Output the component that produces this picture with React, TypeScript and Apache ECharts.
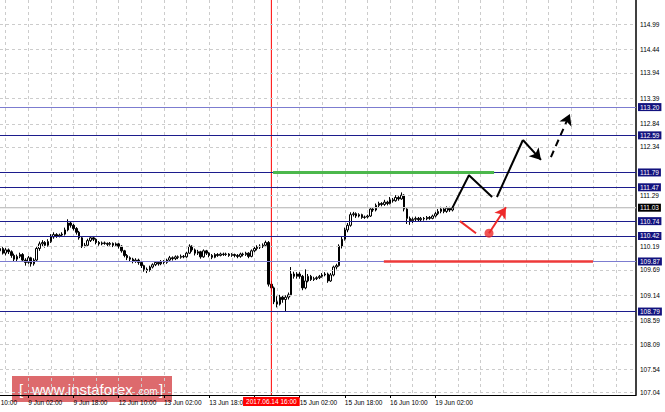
import React, { useEffect, useRef } from "react";
import * as echarts from "echarts";

// ---------- categories (hourly bars, weekends skipped) ----------
const MONTHS = ["Jan", "Feb", "Mar", "Apr", "May", "Jun", "Jul", "Aug", "Sep", "Oct", "Nov", "Dec"];
const START_UTC = Date.UTC(2017, 5, 8, 16);
const SLOT_COUNT = 226;
function buildCategories(): string[] {
  const out: string[] = [];
  let t = START_UTC;
  while (out.length < SLOT_COUNT) {
    const d = new Date(t);
    const dow = d.getUTCDay();
    if (dow !== 0 && dow !== 6) {
      const hh = String(d.getUTCHours()).padStart(2, "0");
      out.push(`${d.getUTCDate()} ${MONTHS[d.getUTCMonth()]} ${hh}:00`);
    }
    t += 3600000;
  }
  return out;
}
const categories = buildCategories();

// ---------- candles: [open, close, low, high] ----------
const candles: number[][] = [
  [110.10, 110.15, 110.06, 110.20], [110.15, 110.05, 110.02, 110.18], [110.05, 110.12, 110.00, 110.16], [110.12, 110.08, 110.03, 110.15],
  [110.08, 110.00, 109.95, 110.11], [110.00, 109.92, 109.86, 110.04], [109.92, 109.98, 109.88, 110.02], [109.98, 110.02, 109.94, 110.06],
  [110.02, 109.90, 109.86, 110.05], [109.90, 109.85, 109.78, 109.94], [109.85, 109.95, 109.82, 109.99], [109.95, 109.82, 109.76, 109.97],
  [109.82, 109.90, 109.78, 109.94], [109.90, 110.15, 109.88, 110.18], [110.15, 110.25, 110.10, 110.30], [110.25, 110.28, 110.20, 110.33],
  [110.28, 110.22, 110.17, 110.31], [110.22, 110.30, 110.19, 110.35], [110.30, 110.40, 110.27, 110.46], [110.40, 110.45, 110.36, 110.50],
  [110.45, 110.42, 110.38, 110.48], [110.42, 110.44, 110.39, 110.47], [110.44, 110.46, 110.41, 110.50], [110.46, 110.55, 110.43, 110.60],
  [110.55, 110.70, 110.52, 110.78], [110.70, 110.65, 110.60, 110.74], [110.65, 110.58, 110.54, 110.68], [110.58, 110.50, 110.45, 110.61],
  [110.50, 110.38, 110.34, 110.53], [110.38, 110.20, 110.16, 110.40], [110.20, 110.22, 110.17, 110.27], [110.22, 110.32, 110.20, 110.36],
  [110.32, 110.38, 110.29, 110.42], [110.38, 110.35, 110.31, 110.41], [110.35, 110.28, 110.24, 110.37], [110.28, 110.25, 110.21, 110.31],
  [110.25, 110.27, 110.22, 110.30], [110.27, 110.26, 110.23, 110.30], [110.26, 110.24, 110.20, 110.28], [110.24, 110.26, 110.21, 110.29],
  [110.26, 110.22, 110.18, 110.28], [110.22, 110.25, 110.19, 110.28], [110.25, 110.20, 110.15, 110.27], [110.20, 110.10, 110.06, 110.22],
  [110.10, 110.00, 109.96, 110.12], [110.00, 109.95, 109.90, 110.03], [109.95, 109.92, 109.88, 109.98], [109.92, 109.88, 109.83, 109.95],
  [109.88, 109.90, 109.84, 109.94], [109.90, 109.85, 109.80, 109.93], [109.85, 109.78, 109.73, 109.88], [109.78, 109.70, 109.65, 109.80],
  [109.70, 109.68, 109.62, 109.74], [109.68, 109.75, 109.65, 109.78], [109.75, 109.80, 109.72, 109.83], [109.80, 109.85, 109.77, 109.88],
  [109.85, 109.82, 109.78, 109.88], [109.82, 109.87, 109.79, 109.90], [109.87, 109.85, 109.81, 109.90], [109.85, 109.90, 109.82, 109.93],
  [109.90, 109.95, 109.87, 109.99], [109.95, 109.93, 109.89, 109.98], [109.93, 109.97, 109.90, 110.00], [109.97, 109.96, 109.92, 110.00],
  [109.96, 109.98, 109.93, 110.02], [109.98, 109.97, 109.94, 110.01], [109.97, 110.05, 109.95, 110.08], [110.05, 110.20, 110.03, 110.24],
  [110.20, 110.12, 110.08, 110.22], [110.12, 110.05, 110.00, 110.15], [110.05, 110.08, 110.01, 110.12], [110.08, 109.97, 109.93, 110.10],
  [109.97, 110.10, 109.95, 110.13], [110.10, 110.05, 110.01, 110.12], [110.05, 110.00, 109.96, 110.07], [110.00, 109.96, 109.92, 110.03],
  [109.96, 110.02, 109.94, 110.05], [110.02, 110.00, 109.97, 110.05], [110.00, 110.03, 109.98, 110.06], [110.03, 110.02, 109.99, 110.06],
  [110.02, 110.03, 109.99, 110.06], [110.03, 110.00, 109.97, 110.05], [110.00, 110.02, 109.97, 110.05], [110.02, 110.00, 109.96, 110.04],
  [110.00, 109.98, 109.94, 110.03], [109.98, 110.03, 109.95, 110.06], [110.03, 110.02, 109.98, 110.06], [110.02, 110.05, 109.99, 110.08],
  [110.05, 109.98, 109.94, 110.07], [109.98, 110.10, 109.96, 110.13], [110.10, 110.15, 110.07, 110.19], [110.15, 110.18, 110.11, 110.22],
  [110.18, 110.20, 110.14, 110.24], [110.20, 110.22, 110.16, 110.26], [110.22, 110.28, 110.18, 110.32], [110.28, 109.38, 109.33, 110.31],
  [109.38, 109.30, 109.22, 109.45], [109.30, 109.00, 108.95, 109.33], [109.00, 108.95, 108.88, 109.12], [108.95, 109.10, 108.92, 109.15],
  [109.10, 109.05, 108.98, 109.14], [109.05, 109.10, 108.79, 109.14], [109.10, 109.15, 109.05, 109.20], [109.15, 109.60, 109.12, 109.75],
  [109.60, 109.55, 109.50, 109.65], [109.55, 109.60, 109.50, 109.64], [109.60, 109.55, 109.50, 109.64], [109.55, 109.30, 109.25, 109.58],
  [109.30, 109.45, 109.27, 109.70], [109.45, 109.55, 109.42, 109.60], [109.55, 109.48, 109.45, 109.58], [109.48, 109.50, 109.45, 109.54],
  [109.50, 109.52, 109.47, 109.55], [109.52, 109.55, 109.49, 109.58], [109.55, 109.58, 109.52, 109.62], [109.58, 109.60, 109.55, 109.64],
  [109.60, 109.45, 109.41, 109.63], [109.45, 109.58, 109.43, 109.62], [109.58, 109.75, 109.55, 109.78], [109.75, 109.78, 109.70, 109.82],
  [109.78, 110.20, 109.76, 110.24], [110.20, 110.35, 110.15, 110.40], [110.35, 110.55, 110.32, 110.60], [110.55, 110.65, 110.50, 110.70],
  [110.65, 110.88, 110.62, 110.93], [110.88, 110.90, 110.84, 110.94], [110.90, 110.85, 110.81, 110.93], [110.85, 110.88, 110.82, 110.91],
  [110.88, 110.82, 110.79, 110.90], [110.82, 110.83, 110.79, 110.86], [110.83, 110.85, 110.80, 110.88], [110.85, 111.00, 110.83, 111.04],
  [111.00, 110.98, 110.94, 111.03], [110.98, 111.08, 110.95, 111.12], [111.08, 111.12, 111.04, 111.16], [111.12, 111.10, 111.06, 111.15],
  [111.10, 111.15, 111.07, 111.20], [111.15, 111.12, 111.08, 111.18], [111.12, 111.20, 111.10, 111.26], [111.20, 111.18, 111.14, 111.24],
  [111.18, 111.25, 111.16, 111.30], [111.25, 111.22, 111.18, 111.28], [111.22, 111.30, 111.20, 111.36], [111.30, 111.00, 110.95, 111.32],
  [111.00, 110.80, 110.68, 111.02], [110.80, 110.75, 110.66, 110.84], [110.75, 110.78, 110.70, 110.82], [110.78, 110.80, 110.74, 110.84],
  [110.80, 110.77, 110.73, 110.83], [110.77, 110.80, 110.74, 110.83], [110.80, 110.79, 110.75, 110.83], [110.79, 110.82, 110.76, 110.85],
  [110.82, 110.80, 110.77, 110.85], [110.80, 110.85, 110.78, 110.88], [110.85, 110.90, 110.82, 110.94], [110.90, 110.95, 110.87, 111.00],
  [110.95, 111.00, 110.91, 111.05], [111.00, 110.95, 110.91, 111.03], [110.95, 111.02, 110.92, 111.06], [111.02, 110.98, 110.94, 111.05],
  [110.98, 111.03, 110.95, 111.06],
];

// ---------- price scale ----------
const yTicks = [114.99, 114.44, 113.94, 113.39, 112.84, 112.34, 111.79, 111.29, 110.74, 110.19, 109.69, 109.14, 108.59, 108.09, 107.54, 107.04];
const levels = [113.20, 112.59, 111.79, 111.47, 110.74, 110.42, 109.87, 108.79];
const lightLevels = [113.20, 109.87];
const currentPrice = 111.03;
const yMin = 106.99;
const yMax = 115.51;

// ---------- event / annotations: [bar index, price] ----------
const eventIndex = 96;
const eventLabel = "2017.06.14 16:00";
const leftCutLabelIndex = -6;
const leftCutLabelHidden = "8 Jun ";
const leftCutLabelVisible = "10:00";
const greenLevel = [[96.6, 111.79], [174.8, 111.79]];
const redLevel = [[135.8, 109.87], [209.8, 109.87]];
const blackPathA = [[160, 111.02], [165.9, 111.73], [174.1, 111.26]];
const blackPathB = [[175.8, 111.26], [185.0, 112.49]];
const blackArrow = [[185.0, 112.49], [191.4, 112.06]];
const blackDashedArrow = [[194.9, 112.12], [201.6, 113.05]];
const redStroke = [[162.7, 110.74], [168.4, 110.48]];
const redDot = [[173.0, 110.48]];
const redArrow = [[173.0, 110.48], [179.0, 111.04]];

const FONT = "Liberation Sans";
const FS = 6.5;

const labelFn = (i: number) => i % 16 === 10 && i <= 154 && i !== 90;
const tickFn = (i: number) => i % 16 === 10 && i <= 154;
const gridFn = (i: number) => i % 8 === 2;

function measure(text: string, font: string): number {
  const c = document.createElement("canvas").getContext("2d");
  if (!c) return text.length * 3;
  c.font = font;
  return c.measureText(text).width;
}

export default function App() {
  const ref = useRef<HTMLDivElement>(null);
  useEffect(() => {
    if (!ref.current) return;
    const chart = echarts.init(ref.current, null, { renderer: "svg" });

    const gridItems: any[] = yTicks.map((v) =>
      levels.includes(v) ? { yAxis: v, label: { show: false } } : { yAxis: v, label: { formatter: v.toFixed(2) } }
    );

    const levelItems = levels.map((v) => ({
      yAxis: v,
      lineStyle: { color: lightLevels.includes(v) ? "#7c7cd0" : "#1c1c8c", width: 1, type: "solid" },
      label: { formatter: v.toFixed(2) },
    }));

    const arrowLine = (pts: number[][], color: string, dashed: boolean) => [
      { coord: pts[0], lineStyle: { color, width: 2, type: dashed ? [7, 5] : "solid" } },
      { coord: pts[1] },
    ];

    const option: any = {
      animation: false,
      backgroundColor: "#ffffff",
      textStyle: { fontFamily: FONT },
      grid: { left: 0, top: 0, width: 636, height: 395, containLabel: false },
      xAxis: [
        {
          type: "category",
          data: categories,
          boundaryGap: false,
          axisLine: { show: true, onZero: false, lineStyle: { color: "#000", width: 1 } },
          axisTick: { show: true, interval: tickFn, length: 3, lineStyle: { color: "#000" } },
          axisLabel: { show: true, interval: labelFn, align: "left", margin: 4, fontSize: FS, color: "#000", fontFamily: FONT },
          splitLine: { show: true, interval: gridFn, lineStyle: { color: "#cccccc", type: [3, 3], width: 1 } },
        },
        { type: "value", min: 0, max: SLOT_COUNT - 1, show: false },
      ],
      yAxis: {
        type: "value",
        position: "right",
        min: yMin,
        max: yMax,
        axisLine: { show: true, onZero: false, lineStyle: { color: "#000", width: 1.5 } },
        axisTick: { show: false },
        axisLabel: { show: false },
        splitLine: { show: false },
      },
      series: [
        {
          name: "bid",
          type: "line",
          xAxisIndex: 1,
          data: [[0, currentPrice], [SLOT_COUNT - 1, currentPrice]],
          symbol: "none",
          silent: true,
          z: 1,
          lineStyle: { color: "#c4c4c4", width: 1 },
          markLine: {
            silent: true,
            symbol: "none",
            lineStyle: { color: "#cccccc", type: [3, 3], width: 1 },
            label: { show: true, position: "end", distance: 4, fontSize: FS, color: "#000", fontFamily: FONT },
            emphasis: { disabled: true },
            data: gridItems,
          },
        },
        {
          name: "USDJPY",
          type: "candlestick",
          xAxisIndex: 0,
          data: candles,
          barWidth: 2,
          silent: true,
          z: 2,
          itemStyle: { color: "#ffffff", color0: "#000000", borderColor: "#000000", borderColor0: "#000000", borderWidth: 1 },
        },
        {
          name: "levels",
          type: "line",
          xAxisIndex: 1,
          data: [[0, currentPrice], [SLOT_COUNT - 1, currentPrice]],
          symbol: "none",
          silent: true,
          z: 3,
          lineStyle: { color: "#c4c4c4", width: 1 },
          markLine: {
            silent: true,
            symbol: "none",
            label: {
              show: true, position: "end", distance: 2, fontSize: FS, color: "#fff", fontFamily: FONT,
              backgroundColor: "#12127e", padding: [1, 2, 0, 2],
            },
            emphasis: { disabled: true },
            data: [
              ...levelItems,
              {
                yAxis: currentPrice,
                lineStyle: { color: "#c4c4c4", width: 1, type: "solid" },
                label: { formatter: currentPrice.toFixed(2), backgroundColor: "#000" },
              },
            ],
          },
        },
        {
          name: "event",
          type: "line",
          xAxisIndex: 1,
          data: [[eventIndex, yMin], [eventIndex, yMax]],
          symbol: "none",
          silent: true,
          z: 4,
          lineStyle: { color: "#ff0000", width: 1 },
        },
        {
          name: "resistance",
          type: "line",
          xAxisIndex: 1,
          data: greenLevel,
          symbol: "none",
          silent: true,
          z: 5,
          lineStyle: { color: "#4cb84c", width: 3 },
        },
        {
          name: "support",
          type: "line",
          xAxisIndex: 1,
          data: redLevel,
          symbol: "none",
          silent: true,
          z: 5,
          lineStyle: { color: "#ee3a3a", width: 2.5 },
        },
        {
          name: "pathA",
          type: "line",
          xAxisIndex: 1,
          data: blackPathA,
          symbol: "none",
          silent: true,
          z: 6,
          lineStyle: { color: "#000", width: 2 },
        },
        {
          name: "pathB",
          type: "line",
          xAxisIndex: 1,
          data: blackPathB,
          symbol: "none",
          silent: true,
          z: 6,
          lineStyle: { color: "#000", width: 2 },
          markLine: {
            silent: true,
            symbol: ["none", "arrow"],
            symbolSize: [10, 11],
            label: { show: false },
            emphasis: { disabled: true },
            data: [
              arrowLine(blackArrow, "#000", false),
              arrowLine(blackDashedArrow, "#000", true),
              arrowLine(redArrow, "#ee2a2a", false),
            ],
          },
        },
        {
          name: "redStroke",
          type: "line",
          xAxisIndex: 1,
          data: redStroke,
          symbol: "none",
          silent: true,
          z: 6,
          lineStyle: { color: "#ee2a2a", width: 2 },
        },
        {
          name: "redDot",
          type: "scatter",
          xAxisIndex: 1,
          data: redDot,
          symbolSize: 9,
          silent: true,
          z: 7,
          itemStyle: { color: "#ee2a2a" },
        },
      ],
    };
    chart.setOption(option);

    const cutFont = `${FS}px '${FONT}'`;
    const cutX = (chart.convertToPixel({ xAxisIndex: 1 } as any, leftCutLabelIndex) as number) + measure(leftCutLabelHidden, cutFont);
    const eventX = chart.convertToPixel({ xAxisIndex: 1 } as any, eventIndex) as number;
    chart.setOption({
      graphic: [
        {
          type: "rect", z: -10, silent: true,
          shape: { x: 12, y: 376, width: 160, height: 26 },
          style: { fill: "rgba(208,48,52,0.72)" },
        },
        { type: "text", z: -9, silent: true, x: 19, y: 389, style: { text: "[", fill: "#fff", font: `15px '${FONT}'`, verticalAlign: "middle" } },
        { type: "text", z: -9, silent: true, x: 32, y: 389, style: { text: "www.instaforex", fill: "#fff", font: `15px '${FONT}'`, verticalAlign: "middle" } },
        { type: "text", z: -9, silent: true, x: 136, y: 391, style: { text: ".com", fill: "#fff", font: `10px '${FONT}'`, verticalAlign: "middle" } },
        { type: "text", z: -9, silent: true, x: 159, y: 389, style: { text: "]", fill: "#fff", font: `15px '${FONT}'`, verticalAlign: "middle" } },
        {
          type: "text", silent: true, x: Math.max(0, cutX), y: 399,
          style: { text: leftCutLabelVisible, fill: "#000", font: cutFont, verticalAlign: "top" },
        },
        {
          type: "text", silent: true, z: 100, x: eventX, y: 397,
          style: {
            text: eventLabel, fill: "#fff", font: cutFont, align: "center", verticalAlign: "top",
            backgroundColor: "#ff0000", padding: [1, 3, 1, 3],
          },
        },
      ],
    });

    return () => chart.dispose();
  }, []);
  return <div ref={ref} style={{ position: "absolute", left: 0, top: 0, width: 665, height: 412 }} />;
}
